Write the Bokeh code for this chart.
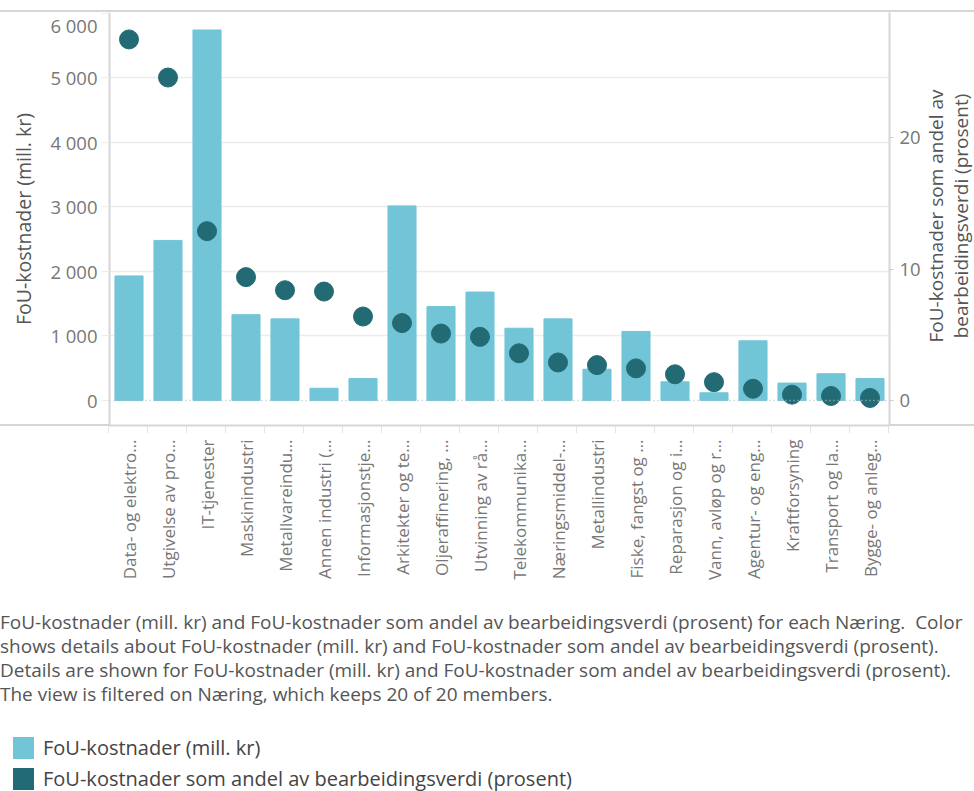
from math import pi
from bokeh.plotting import figure
from bokeh.layouts import column, row
from bokeh.models import (FactorRange, Range1d, LinearAxis, FixedTicker, Span, Div)
from bokeh.embed import file_html
from bokeh.resources import INLINE

# ---- data ----
categories = [
    "Data- og elektro…", "Utgivelse av pro…", "IT-tjenester", "Maskinindustri",
    "Metallvareindu…", "Annen industri (…", "Informasjonstje…", "Arkitekter og te…",
    "Oljeraffinering, …", "Utvinning av rå…", "Telekommunika…", "Næringsmiddel-…",
    "Metallindustri", "Fiske, fangst og …", "Reparasjon og i…", "Vann, avløp og r…",
    "Agentur- og eng…", "Kraftforsyning", "Transport og la…", "Bygge- og anleg…",
]
fou_mill_kr = [1930, 2480, 5740, 1330, 1265, 190, 340, 3015, 1455, 1680,
               1120, 1265, 485, 1070, 290, 120, 925, 270, 415, 340]
andel_prosent = [27.5, 24.6, 12.9, 9.4, 8.4, 8.3, 6.4, 5.9, 5.1, 4.85,
                 3.6, 2.9, 2.7, 2.45, 2.0, 1.4, 0.9, 0.45, 0.35, 0.2]
left_ticks = [0, 1000, 2000, 3000, 4000, 5000, 6000]
left_tick_labels = ["0", "1 000", "2 000", "3 000", "4 000", "5 000", "6 000"]
right_ticks = [0, 10, 20]
left_title = "FoU-kostnader (mill. kr)"
right_title_lines = ["FoU-kostnader som andel av", "bearbeidingsverdi (prosent)"]
caption_lines = [
    "FoU-kostnader (mill. kr) and FoU-kostnader som andel av bearbeidingsverdi (prosent) for each Næring.&nbsp; Color",
    "shows details about FoU-kostnader (mill. kr) and FoU-kostnader som andel av bearbeidingsverdi (prosent).",
    "Details are shown for FoU-kostnader (mill. kr) and FoU-kostnader som andel av bearbeidingsverdi (prosent).",
    "The view is filtered on Næring, which keeps 20 of 20 members.",
]
legend_labels = ["FoU-kostnader (mill. kr)", "FoU-kostnader som andel av bearbeidingsverdi (prosent)"]

BAR = "#71c5d6"
DOT = "#226a74"
FONT = "Open Sans"
W = 974
RULE = "#d6d6d6"

TOP = 12                     # page y where the plot row starts
FIG_W, FIG_H = 925, 598
FRAME_L, FRAME_R = 109, 889
FRAME_B = 425 - TOP          # frame bottom inside the row
CAT_W = (FRAME_R - FRAME_L) / len(categories)

# top rule spanning the whole width
top_rule = Div(text=f'<div style="width:{W}px;height:2px;margin-top:9px;background:{RULE}"></div>',
               width=W, height=TOP, margin=0)

p = figure(x_range=FactorRange(*categories, range_padding=0),
           y_range=Range1d(-387, 6011),
           width=FIG_W, height=FIG_H, output_backend="svg", toolbar_location=None,
           min_border_left=FRAME_L, min_border_right=FIG_W - FRAME_R,
           min_border_top=0, min_border_bottom=FIG_H - FRAME_B, margin=0)
p.extra_y_ranges = {"pct": Range1d(-1.90, 29.55)}
p.outline_line_color = None
p.background_fill_color = "white"
p.border_fill_color = None

p.vbar(x=categories, top=fou_mill_kr, width=0.72, color=BAR)
p.scatter(x=categories, y=andel_prosent, y_range_name="pct", size=19,
          color=DOT)

# grid
p.xgrid.visible = False
p.ygrid.ticker = FixedTicker(ticks=left_ticks[1:-1])
p.ygrid.grid_line_color = "#ececec"
p.ygrid.grid_line_width = 1.5
p.add_layout(Span(location=0, dimension="width", line_color="#b5bec6",
                  line_dash="1 3", line_width=1.5))

# left axis
la = p.left[0]
la.ticker = FixedTicker(ticks=left_ticks)
la.major_label_overrides = dict(zip(left_ticks, left_tick_labels))
la.axis_label = left_title
la.axis_label_text_font = FONT
la.axis_label_text_font_size = "19.5px"
la.axis_label_text_font_style = "normal"
la.axis_label_text_color = "#555555"
la.axis_label_standoff = 10
la.major_label_text_font = FONT
la.major_label_text_font_size = "18.5px"
la.major_label_text_color = "#777777"
la.major_label_standoff = 4
la.major_tick_out = 8
la.major_tick_in = 0
la.major_tick_line_color = "#ececec"
la.minor_tick_line_color = None
la.axis_line_color = RULE
la.axis_line_width = 2

# right axis
ra = LinearAxis(y_range_name="pct", ticker=FixedTicker(ticks=right_ticks))
ra.major_label_text_font = FONT
ra.major_label_text_font_size = "18.5px"
ra.major_label_text_color = "#777777"
ra.major_label_standoff = 6
ra.major_tick_out = 4
ra.major_tick_in = 0
ra.major_tick_line_color = "#cccccc"
ra.minor_tick_line_color = None
ra.axis_line_color = RULE
ra.axis_line_width = 2
p.add_layout(ra, "right")

# bottom axis
xa = p.below[0]
xa.major_label_orientation = pi / 2
xa.major_label_text_font = FONT
xa.major_label_text_font_size = "17px"
xa.major_label_text_color = "#777777"
xa.major_label_standoff = 8
xa.major_tick_line_color = None
xa.axis_line_color = RULE
xa.axis_line_width = 2

# right axis title (rotated HTML text)
RD_W = W - FIG_W
right_div = Div(
    text=(f'<div style="position:relative;width:{RD_W}px;height:{FIG_H}px;">'
          f'<div style="position:absolute;left:{949 - FIG_W}px;top:{216 - TOP}px;'
          'transform:translate(-50%,-50%) rotate(-90deg);white-space:nowrap;'
          f'text-align:center;font-family:\'{FONT}\';font-size:19px;line-height:25px;'
          'color:#555555;">' + "<br>".join(right_title_lines) + '</div></div>'),
    width=RD_W, height=FIG_H, margin=0)

# full-width bottom rule of the plot pane + category separators (row background)
row_bg = {
    "background-image": (
        f"linear-gradient({RULE}, {RULE}), "
        f"repeating-linear-gradient(to right, #e4e4e4 0px, #e4e4e4 1px, transparent 1px, transparent {CAT_W}px)"
    ),
    "background-size": f"{W}px 2px, {FRAME_R - FRAME_L + 1}px 7px",
    "background-position": f"0px {FRAME_B - 1}px, {FRAME_L - 1}px {FRAME_B + 1}px",
    "background-repeat": "no-repeat",
}
plot_row = row(p, right_div, spacing=0, styles=row_bg)

# caption + legend
cap_html = "<br>".join(caption_lines)
legend_html = ""
for lab, col in zip(legend_labels, [BAR, DOT]):
    legend_html += (
        '<div style="display:flex;align-items:center;height:31px;">'
        f'<span style="display:inline-block;flex:none;width:21px;height:22px;background:{col};'
        'margin-left:13px;margin-right:9px;"></span>'
        f'<span style="color:#444444;font-size:20px;line-height:20px;white-space:nowrap;">{lab}</span></div>'
    )
FOOT_H = 791 - TOP - FIG_H
foot_html = (
    f'<div style="width:{W}px;height:{FOOT_H}px;overflow:hidden;font-family:\'{FONT}\';">'
    f'<div style="font-size:19px;line-height:24px;color:#555555;white-space:nowrap;">{cap_html}</div>'
    f'<div style="margin-top:26px;">{legend_html}</div>'
    '</div>'
)
foot = Div(text=foot_html, width=W, height=FOOT_H, margin=0,
           styles={"overflow": "hidden"})

layout = column(top_rule, plot_row, foot, spacing=0)

open("out.html", "w").write(file_html(layout, INLINE))
